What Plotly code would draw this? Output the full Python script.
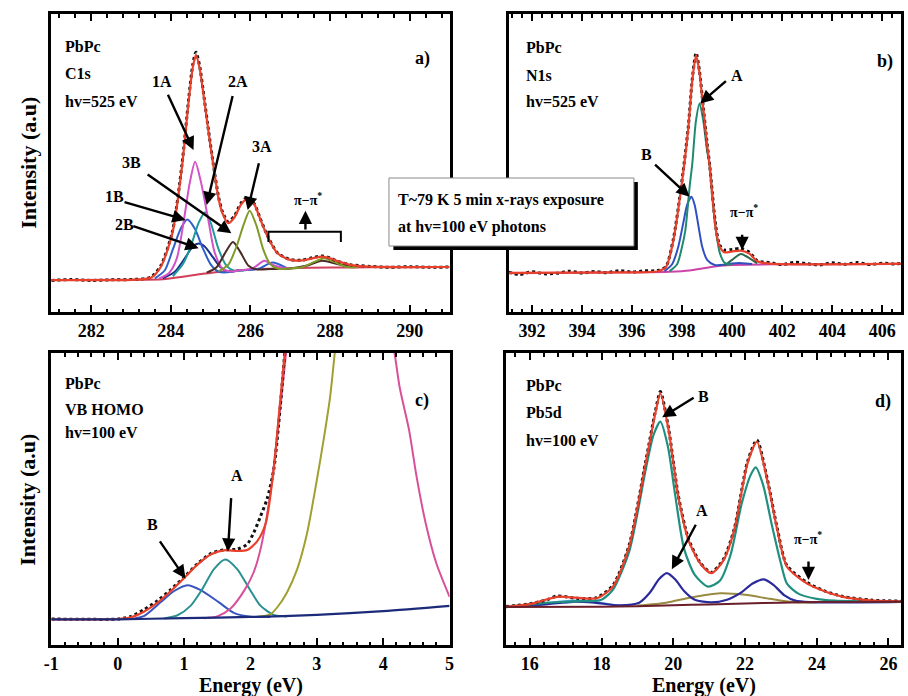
import plotly.graph_objects as go

F = "Liberation Serif, Times New Roman, serif"

# ---------------- Panel a : C1s ----------------
a_data_x = [281.0, 281.5, 282.0, 282.5, 283.0, 283.5, 283.75, 284.04, 284.28, 284.45, 284.55, 284.63, 284.72, 284.84,
            284.95, 285.07, 285.2, 285.3, 285.44, 285.6, 285.75, 285.93, 286.1, 286.25, 286.43, 286.68, 287.0, 287.3,
            287.55, 287.8, 288.0, 288.2, 288.5, 289.0, 289.5, 290.0, 290.5, 291.0]
a_data_y = [10.6, 10.9, 10.6, 10.8, 10.9, 11.7, 15.6, 27.0, 49.5, 71.8, 83.0, 87.2, 82.8, 71.5,
            60.5, 49.3, 38.5, 33.5, 30.3, 32.3, 36.3, 38.6, 36.2, 31.2, 25.5, 19.8, 17.6, 17.4,
            18.2, 18.8, 18.1, 17.0, 15.9, 15.3, 15.0, 15.2, 15.0, 15.1]
a_fit_x = [281.0, 282.0, 283.0, 283.5, 283.75, 284.04, 284.28, 284.45, 284.55, 284.63, 284.72, 284.84, 284.95, 285.07,
           285.2, 285.3, 285.44, 285.6, 285.75, 285.93, 286.1, 286.25, 286.43, 286.68, 287.0, 287.3, 287.55, 287.8,
           288.0, 288.2, 288.5, 289.0, 291.0]
a_fit_y = [10.7, 10.7, 10.8, 11.5, 15.2, 26.5, 48.8, 71.0, 82.0, 86.2, 82.0, 71.0, 60.0, 49.0,
           38.0, 33.0, 29.8, 31.8, 35.8, 38.2, 36.0, 31.0, 25.3, 19.7, 17.5, 17.3, 18.0, 18.6,
           18.0, 17.0, 15.8, 15.2, 15.1]
a_bg_x = [281.0, 283.0, 283.8, 284.3, 284.8, 285.3, 286.0, 287.0, 288.0, 289.0, 291.0]
a_bg_y = [10.7, 10.8, 11.0, 11.8, 12.8, 13.6, 14.3, 14.7, 14.9, 15.0, 15.1]
a_1A_x = [283.7, 283.95, 284.15, 284.33, 284.47, 284.61, 284.75, 284.94, 285.1, 285.3, 285.5, 285.7, 285.9, 286.1,
          286.35, 286.6, 286.85, 287.1]
a_1A_y = [11.2, 13.0, 18.0, 31.0, 43.0, 50.4, 44.0, 31.0, 20.0, 14.5, 13.6, 13.9, 14.2, 15.0, 17.2, 15.6, 14.8, 14.8]
a_1B_x = [283.6, 283.85, 284.05, 284.25, 284.41, 284.6, 284.8, 285.0, 285.2, 285.4, 285.7, 286.2, 286.55, 286.9]
a_1B_y = [11.3, 14.0, 21.0, 28.0, 31.0, 28.0, 21.5, 16.0, 13.5, 13.3, 13.9, 14.5, 16.6, 14.8]
a_2A_x = [284.05, 284.3, 284.5, 284.7, 284.86, 285.0, 285.2, 285.4, 285.6, 285.9]
a_2A_y = [12.0, 16.0, 22.0, 30.0, 33.5, 30.0, 21.0, 15.5, 13.8, 14.1]
a_2B_x = [283.8, 284.1, 284.35, 284.55, 284.7, 284.85, 285.05, 285.25, 285.45, 285.7]
a_2B_y = [11.3, 13.5, 18.0, 22.0, 23.0, 22.0, 18.5, 15.0, 13.5, 13.9]
a_3A_x = [285.2, 285.45, 285.65, 285.82, 285.98, 286.15, 286.32, 286.5, 286.7, 286.95, 287.3, 287.6, 287.85, 288.1,
          288.4, 288.7]
a_3A_y = [13.6, 16.0, 22.0, 29.0, 34.0, 29.0, 21.0, 16.0, 14.5, 14.6, 15.0, 16.8, 18.0, 16.8, 15.2, 15.0]
a_3B_x = [284.9, 285.15, 285.35, 285.56, 285.75, 285.95, 286.15, 286.5, 287.0, 287.4, 287.8, 288.2, 288.6]
a_3B_y = [13.2, 15.0, 19.5, 23.5, 20.0, 15.5, 14.3, 14.4, 14.6, 15.5, 17.2, 16.0, 15.0]
a_ticks = [282, 284, 286, 288, 290]

# ---------------- Panel b : N1s ----------------
b_data_x = [391.07, 391.5, 392, 392.5, 393, 393.5, 394, 394.5, 395, 395.5, 396, 396.5, 397, 397.35, 397.65, 397.97,
            398.24, 398.41, 398.56, 398.7, 398.8, 399.0, 399.1, 399.35, 399.5, 399.7, 400.0, 400.35, 400.7, 401.0,
            401.5, 402, 402.5, 403, 403.5, 404, 404.5, 405, 405.5, 406, 406.5, 406.75]
b_data_y = [13.4, 12.6, 13.5, 12.8, 13.0, 13.7, 13.1, 13.6, 13.2, 13.9, 13.4, 13.8, 13.9, 15.2, 24.5, 42.5,
            61.5, 78.5, 87.0, 80.5, 72.5, 56.5, 49.5, 28.5, 22.5, 20.8, 21.0, 21.3, 20.0, 17.2,
            16.6, 15.9, 16.7, 16.2, 15.8, 16.5, 16.0, 16.6, 15.9, 16.4, 16.1, 16.3]
b_fit_x = [391.07, 396.0, 397.0, 397.35, 397.65, 397.97, 398.24, 398.41, 398.56, 398.7, 398.8, 399.0, 399.1, 399.35,
           399.5, 399.7, 400.0, 400.35, 400.7, 401.0, 401.5, 406.75]
b_fit_y = [13.1, 13.3, 13.6, 15.0, 24.0, 42.0, 61.0, 78.0, 86.2, 80.0, 72.0, 56.0, 49.0, 27.5,
           22.0, 20.0, 20.3, 20.6, 19.5, 17.0, 16.2, 16.2]
b_bg_x = [391.07, 396.0, 397.5, 398.3, 398.8, 399.3, 400.0, 402.0, 406.75]
b_bg_y = [13.0, 13.3, 13.5, 13.9, 14.6, 15.3, 15.8, 16.0, 16.1]
b_A_x = [397.5, 397.8, 398.0, 398.13, 398.3, 398.41, 398.55, 398.7, 398.85, 399.0, 399.09, 399.25, 399.35, 399.5,
         399.7, 400.0]
b_A_y = [13.7, 16.0, 22.0, 27.5, 42.0, 50.0, 64.0, 70.0, 64.0, 54.0, 49.9, 35.0, 27.5, 20.0, 16.5, 15.8]
b_B_x = [397.3, 397.6, 397.85, 398.05, 398.2, 398.37, 398.5, 398.65, 398.8, 399.0, 399.3, 399.7, 400.0, 400.4, 400.8]
b_B_y = [13.7, 16.0, 22.0, 30.0, 36.0, 38.7, 36.0, 29.0, 22.0, 17.5, 15.8, 15.9, 16.3, 16.4, 16.1]
b_P_x = [399.7, 400.0, 400.35, 400.7, 401.0]
b_P_y = [15.6, 17.5, 19.5, 18.0, 16.3]
b_ticks = [392, 394, 396, 398, 400, 402, 404, 406]

# ---------------- Panel c : VB HOMO ----------------
c_data_x = [-1, -0.5, 0, 0.2, 0.4, 0.6, 0.8, 1.0, 1.2, 1.4, 1.6, 1.8, 1.95, 2.05, 2.15, 2.25, 2.35, 2.45, 2.53]
c_data_y = [8.9, 8.8, 8.9, 9.8, 12.2, 15.2, 19.0, 23.2, 27.8, 31.3, 32.6, 32.8, 34.5, 38.5, 44.0, 50.0, 60.0, 82.0, 104]
c_fit_x = [-1, 0.0, 0.2, 0.4, 0.6, 0.8, 1.02, 1.2, 1.4, 1.62, 1.8, 1.95, 2.1, 2.23, 2.36, 2.43, 2.5, 2.56]
c_fit_y = [8.8, 8.9, 9.5, 11.5, 14.5, 18.5, 23.4, 27.5, 31.0, 32.5, 32.2, 32.5, 35.5, 41.7, 62.2, 79.3, 96, 110]
c_bg_x = [-1, 0, 1, 2, 3, 4, 5]
c_bg_y = [8.8, 8.8, 9.2, 9.6, 10.3, 11.6, 13.4]
c_A_x = [0.7, 0.9, 1.1, 1.27, 1.45, 1.62, 1.8, 1.99, 2.15, 2.35, 2.55]
c_A_y = [9.1, 10.2, 13.5, 19.0, 26.0, 29.3, 26.0, 19.0, 13.5, 10.3, 9.8]
c_B_x = [0.2, 0.4, 0.65, 0.85, 1.05, 1.25, 1.52, 1.75, 2.0, 2.3]
c_B_y = [8.9, 10.0, 14.7, 18.5, 20.5, 18.8, 14.7, 11.0, 9.7, 9.6]
c_P1_x = [1.3, 1.5, 1.7, 1.91, 2.05, 2.16, 2.3, 2.41, 2.5, 2.58]
c_P1_y = [9.2, 9.8, 12.5, 18.8, 25.0, 33.7, 52.0, 73.0, 92.0, 110]
c_P2_x = [4.08, 4.17, 4.25, 4.39, 4.5, 4.64, 4.8, 5.0]
c_P2_y = [110, 100, 88, 73.6, 58, 41.7, 28, 16.5]
c_O_x = [2.1, 2.3, 2.41, 2.55, 2.7, 2.85, 3.0, 3.1, 3.2, 3.27, 3.32]
c_O_y = [9.7, 10.5, 13.1, 18.0, 25.7, 38.0, 56.5, 70.0, 85.0, 100, 110]
c_ticks = [-1, 0, 1, 2, 3, 4, 5]

# ---------------- Panel d : Pb5d ----------------
d_data_x = [15.33, 16.0, 16.5, 16.76, 17.3, 17.86, 18.32, 18.77, 19.23, 19.5, 19.64, 19.87, 20.14, 20.42, 20.75,
            21.06, 21.4, 21.7, 22.07, 22.33, 22.62, 22.9, 23.17, 23.72, 24.2, 24.73, 25.5, 26.35]
d_data_y = [13.2, 14.1, 15.6, 16.8, 16.0, 16.2, 20.5, 34.2, 62.8, 80.0, 86.8, 74.0, 51.2, 36.5, 28.2,
            24.9, 29.4, 39.8, 62.8, 70.2, 56.9, 39.9, 27.2, 21.5, 18.6, 16.6, 15.4, 15.0]
d_fit_x = [15.33, 16.0, 16.76, 17.3, 17.86, 18.32, 18.77, 19.23, 19.5, 19.64, 19.87, 20.14, 20.42, 20.75, 21.06,
           21.4, 21.7, 22.07, 22.33, 22.62, 22.9, 23.17, 23.72, 24.2, 24.73, 25.5, 26.35]
d_fit_y = [13.1, 14.0, 16.5, 16.2, 16.0, 20.0, 33.7, 62.2, 79.3, 86.2, 73.6, 50.8, 36.0, 28.0, 24.6,
           29.0, 39.4, 62.2, 69.6, 56.5, 39.4, 26.8, 21.1, 18.5, 16.5, 15.3, 14.9]
d_bg_x = [15.33, 18, 19, 20, 21, 22, 23, 24, 26.35]
d_bg_y = [13.0, 13.1, 13.3, 13.6, 13.9, 14.2, 14.5, 14.7, 14.8]
d_B_x = [15.33, 16.5, 17.5, 18.0, 18.32, 18.77, 19.0, 19.23, 19.45, 19.64, 19.85, 20.06, 20.3, 20.6, 20.97, 21.3,
         21.6, 21.9, 22.15, 22.3, 22.5, 22.75, 23.0, 23.17, 23.5, 24.0, 24.5, 26.35]
d_B_y = [13.0, 14.5, 15.0, 15.5, 19.0, 32.0, 45.0, 60.0, 72.0, 76.5, 68.0, 50.8, 33.0, 24.0, 20.0, 22.0,
         31.0, 48.0, 58.0, 60.8, 55.0, 41.0, 28.0, 21.0, 17.5, 15.8, 15.2, 14.9]
d_A_x = [15.33, 16.5, 17.2, 17.8, 18.5, 19.05, 19.35, 19.6, 19.82, 20.05, 20.3, 20.6, 21.06, 21.5, 21.9, 22.2,
         22.53, 22.8, 23.1, 23.4, 23.8, 26.35]
d_A_y = [13.0, 14.0, 14.8, 14.5, 13.6, 14.5, 18.0, 22.5, 24.6, 22.5, 18.5, 15.5, 14.6, 15.5, 18.0, 21.0,
         22.5, 20.5, 17.0, 15.2, 14.7, 14.8]
d_O_x = [19.0, 19.8, 20.5, 21.3, 22.0, 22.7, 23.4, 24.0]
d_O_y = [13.5, 14.5, 16.3, 17.7, 17.2, 15.8, 14.6, 14.6]
d_C_x = [16.0, 16.8, 17.5, 18.2, 18.6]
d_C_y = [13.3, 14.8, 15.2, 14.0, 13.3]
d_ticks = [16, 18, 20, 22, 24, 26]

RED = "#e8402a"

fig = go.Figure()


def line(x, y, color, ax, width=2.0, dash=None):
    fig.add_trace(go.Scatter(
        x=x, y=y, mode="lines", xaxis=ax[0], yaxis=ax[1],
        line=dict(color=color, width=width, shape="spline", smoothing=0.7, dash=dash),
        showlegend=False, hoverinfo="skip"))


A = ("x", "y"); B = ("x2", "y2"); C = ("x3", "y3"); D = ("x4", "y4")
DOT = "#111111"

# panel a
line(a_bg_x, a_bg_y, "#d0405a", A)
line(a_2B_x, a_2B_y, "#1c2e8c", A)
line(a_1B_x, a_1B_y, "#2f5fc8", A)
line(a_2A_x, a_2A_y, "#1f9a9a", A)
line(a_1A_x, a_1A_y, "#d452c8", A)
line(a_3B_x, a_3B_y, "#4a2a24", A)
line(a_3A_x, a_3A_y, "#7f9a26", A)
line(a_data_x, a_data_y, DOT, A, width=3, dash="dot")
line(a_fit_x, a_fit_y, RED, A, width=2.2)

# panel b
line(b_bg_x, b_bg_y, "#cc44aa", B)
line(b_B_x, b_B_y, "#3050c0", B)
line(b_P_x, b_P_y, "#2a6a50", B)
line(b_A_x, b_A_y, "#1f8a70", B)
line(b_data_x, b_data_y, DOT, B, width=3, dash="dot")
line(b_fit_x, b_fit_y, RED, B, width=2.2)

# panel c
line(c_B_x, c_B_y, "#3a55c0", C)
line(c_A_x, c_A_y, "#2a9090", C)
line(c_P1_x, c_P1_y, "#d8509a", C)
line(c_P2_x, c_P2_y, "#d8509a", C)
line(c_O_x, c_O_y, "#a0a030", C)
line(c_data_x, c_data_y, DOT, C, width=3, dash="dot")
line(c_fit_x, c_fit_y, RED, C, width=2.2)
line(c_bg_x, c_bg_y, "#1c2a7a", C, width=2.2)

# panel d
line(d_C_x, d_C_y, "#40a0d0", D)
line(d_O_x, d_O_y, "#9a8a40", D)
line(d_A_x, d_A_y, "#2a2a9a", D, width=2.2)
line(d_B_x, d_B_y, "#1f8f80", D, width=2.2)
line(d_data_x, d_data_y, DOT, D, width=3, dash="dot")
line(d_fit_x, d_fit_y, RED, D, width=2.2)
line(d_bg_x, d_bg_y, "#6a1f2a", D)

TICKFONT = dict(family=F, size=18, color="black", weight="bold")


def xax(rng, dom, ticks, minor, anchor):
    return dict(range=rng, domain=dom, anchor=anchor, tickvals=ticks, ticktext=[str(t) for t in ticks],
                ticks="inside", ticklen=7, tickwidth=2, tickcolor="black",
                minor=dict(ticks="inside", ticklen=3.5, tickwidth=2, tickcolor="black", dtick=minor, tick0=ticks[0],
                           showgrid=False),
                showline=True, linewidth=3, linecolor="black", mirror="allticks",
                showgrid=False, zeroline=False, tickfont=TICKFONT, ticklabelstandoff=0)


def yax(dom, anchor):
    return dict(range=[0, 100], domain=dom, anchor=anchor, showticklabels=False, ticks="",
                showline=True, linewidth=3, linecolor="black", mirror=True, showgrid=False, zeroline=False)


XA = [44 / 908, 448 / 908]
XB = [508 / 908, 906 / 908]
XD = [505 / 908, 906 / 908]
YT = [1 - 312 / 696, 1 - 14 / 696]
YB = [1 - 645 / 696, 1 - 353 / 696]

fig.update_layout(
    width=908, height=696, margin=dict(l=0, r=0, t=0, b=0), autosize=False,
    paper_bgcolor="white", plot_bgcolor="white", showlegend=False,
    xaxis=xax([281.0, 291.0], XA, a_ticks, 0.4, "y"),
    yaxis=yax(YT, "x"),
    xaxis2=xax([391.07, 406.75], XB, b_ticks, 0.4, "y2"),
    yaxis2=yax(YT, "x2"),
    xaxis3=xax([-1, 5], XA, c_ticks, 0.2, "y3"),
    yaxis3=yax(YB, "x3"),
    xaxis4=xax([15.33, 26.35], XD, d_ticks, 0.4, "y4"),
    yaxis4=yax(YB, "x4"),
)

ann = []


def txt(x, y, s, xr, yr, size=16, xanchor="center"):
    ann.append(dict(x=x, y=y, text=s, xref=xr, yref=yr, showarrow=False, xanchor=xanchor, yanchor="middle",
                    font=dict(family=F, size=size, color="black", weight="bold")))


def arrow(x0, y0, x1, y1, xr, yr):
    ann.append(dict(x=x1, y=y1, ax=x0, ay=y0, xref=xr, yref=yr, axref=xr, ayref=yr, text="",
                    showarrow=True, arrowhead=2, arrowsize=1.1, arrowwidth=2.4, arrowcolor="black", standoff=0))


# panel info labels
for (xr, yr, lx, ys, lines, tag, tx, ty) in [
    ("x domain", "y domain", 0.030, [0.891, 0.799, 0.706], ["PbPc", "C1s", "hv=525 eV"], "a)", 0.931, 0.851),
    ("x2 domain", "y2 domain", 0.038, [0.886, 0.794, 0.705], ["PbPc", "N1s", "hv=525 eV"], "b)", 0.96, 0.84),
    ("x3 domain", "y3 domain", 0.030, [0.896, 0.806, 0.728], ["PbPc", "VB HOMO", "hv=100 eV"], "c)", 0.931, 0.839),
    ("x4 domain", "y4 domain", 0.045, [0.890, 0.795, 0.702], ["PbPc", "Pb5d", "hv=100 eV"], "d)", 0.955, 0.833),
]:
    for yy, s in zip(ys, lines):
        txt(lx, yy, s, xr, yr, size=16, xanchor="left")
    txt(tx, ty, tag, xr, yr, size=18)

PI = "π−π<sup>*</sup>"
# panel a labels & arrows
txt(283.79, 77.3, "1A", "x", "y"); arrow(283.91, 73.4, 284.57, 54.4, "x", "y")
txt(285.69, 77.3, "2A", "x", "y"); arrow(285.56, 73.0, 284.90, 35.9, "x", "y")
txt(286.30, 55.5, "3A", "x", "y"); arrow(286.22, 50.4, 285.93, 34.2, "x", "y")
txt(283.00, 50.2, "3B", "x", "y"); arrow(283.38, 46.5, 285.52, 26.4, "x", "y")
txt(282.59, 38.7, "1B", "x", "y"); arrow(282.80, 37.0, 284.37, 30.9, "x", "y")
txt(282.84, 29.2, "2B", "x", "y"); arrow(283.02, 29.0, 284.70, 21.4, "x", "y")
txt(287.45, 38.0, PI, "x", "y", size=14); arrow(287.38, 27.2, 287.38, 34.0, "x", "y")
# panel b
txt(400.21, 79.5, "A", "x2", "y2"); arrow(399.81, 77.9, 398.72, 70.0, "x2", "y2")
txt(396.59, 52.7, "B", "x2", "y2"); arrow(396.86, 49.9, 398.30, 38.7, "x2", "y2")
txt(400.47, 34.0, PI, "x2", "y2", size=14); arrow(400.40, 26.4, 400.40, 20.8, "x2", "y2")
# panel c
txt(0.53, 41.1, "B", "x3", "y3"); arrow(0.62, 36.0, 1.02, 22.8, "x3", "y3")
txt(1.79, 58.2, "A", "x3", "y3"); arrow(1.71, 50.8, 1.66, 32.0, "x3", "y3")
# panel d
txt(20.85, 85.0, "B", "x4", "y4"); arrow(20.61, 85.0, 19.69, 78.0, "x4", "y4")
txt(20.81, 46.2, "A", "x4", "y4"); arrow(20.65, 41.7, 19.96, 25.9, "x4", "y4")
txt(23.77, 36.5, PI, "x4", "y4", size=14); arrow(23.77, 29.1, 23.77, 22.3, "x4", "y4")

# axis titles
txt(20 / 908, 1 - 163 / 696, "Intensity (a.u)", "paper", "paper", size=22)
ann[-1]["textangle"] = -90
txt(20 / 908, 1 - 500 / 696, "Intensity (a.u)", "paper", "paper", size=22)
ann[-1]["textangle"] = -90
txt(247 / 908, 1 - 685.5 / 696, "Energy (eV)", "paper", "paper", size=20)
txt(706 / 908, 1 - 685.5 / 696, "Energy (eV)", "paper", "paper", size=20)

# text box
txt(394 / 908, 1 - 200 / 696, "T~79 K 5 min x-rays exposure", "paper", "paper", size=16, xanchor="left")
txt(394 / 908, 1 - 227 / 696, "at hv=100 eV photons", "paper", "paper", size=16, xanchor="left")

fig.update_layout(annotations=ann)

shapes = [
    # pi-pi* bracket in panel a
    dict(type="path", path="M 286.45,23.5 L 286.45,26.9 L 288.27,26.9 L 288.27,23.5", xref="x", yref="y",
         line=dict(color="black", width=2)),
    # box shadow and box
    dict(type="rect", xref="paper", yref="paper", x0=391 / 908, x1=639 / 908, y0=1 - 250 / 696, y1=1 - 182 / 696,
         fillcolor="black", line=dict(width=0), layer="above"),
    dict(type="rect", xref="paper", yref="paper", x0=386.5 / 908, x1=635 / 908, y0=1 - 246 / 696, y1=1 - 178 / 696,
         fillcolor="white", line=dict(color="#888888", width=1), layer="above"),
]
fig.update_layout(shapes=shapes)

fig.write_html("out.html", config={"displayModeBar": False},
               post_script="document.body.style.margin='0px';")
